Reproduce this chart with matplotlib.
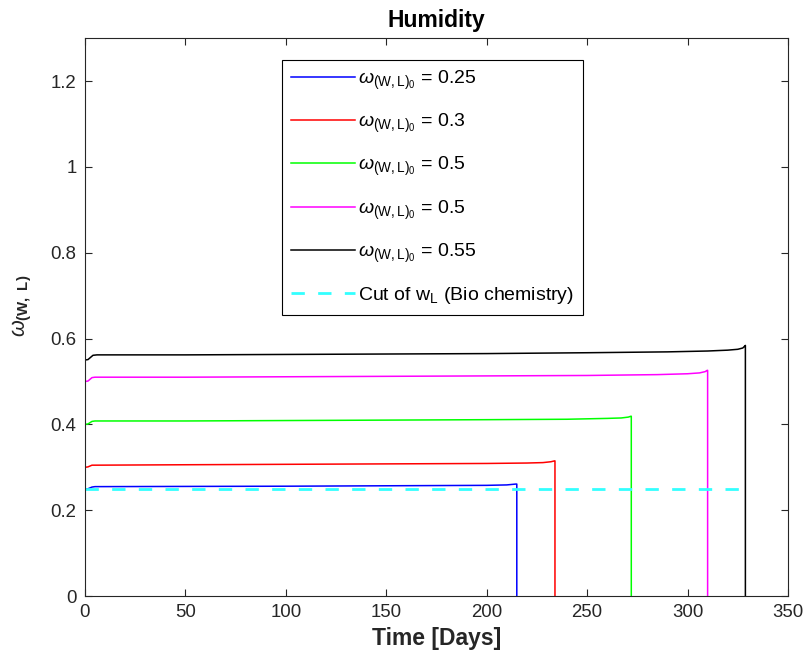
import matplotlib.pyplot as plt

plt.rcParams['font.family'] = ['Liberation Sans', 'DejaVu Sans']
plt.rcParams['mathtext.fontset'] = 'custom'
plt.rcParams['mathtext.rm'] = 'Liberation Sans'
plt.rcParams['mathtext.it'] = 'Liberation Sans:italic'
plt.rcParams['mathtext.bf'] = 'Liberation Sans:bold'

# humidity curves, one per initial water content
days_025 = [0, 1.5, 3.5, 5, 50, 100, 150, 200, 210, 214.5, 215, 215]
hum_025 = [0.250, 0.250, 0.254, 0.255, 0.2555, 0.256, 0.257, 0.258, 0.259, 0.261, 0.261, 0.0]

days_03 = [0, 1.5, 3.5, 5, 50, 100, 150, 200, 220, 228, 232, 233.8, 234, 234]
hum_03 = [0.300, 0.301, 0.305, 0.305, 0.306, 0.307, 0.308, 0.309, 0.310, 0.311, 0.313, 0.315, 0.315, 0.0]

days_05a = [0, 1.5, 3.5, 5, 50, 100, 150, 200, 240, 260, 267, 270.5, 271.8, 272, 272]
hum_05a = [0.400, 0.401, 0.407, 0.408, 0.408, 0.409, 0.410, 0.411, 0.412, 0.414, 0.415, 0.417, 0.419, 0.419, 0.0]

days_05b = [0, 1.5, 3.5, 5, 50, 100, 150, 200, 250, 285, 300, 306, 308.8, 309.8, 310, 310]
hum_05b = [0.500, 0.501, 0.509, 0.510, 0.510, 0.511, 0.512, 0.513, 0.514, 0.516, 0.518, 0.520, 0.523, 0.526, 0.526, 0.0]

days_055 = [0, 1.5, 4, 6, 50, 100, 150, 200, 250, 290, 310, 320, 325, 327.5, 328.6, 328.8, 328.8]
hum_055 = [0.550, 0.551, 0.561, 0.562, 0.562, 0.563, 0.564, 0.565, 0.567, 0.569, 0.571, 0.573, 0.575, 0.578, 0.583, 0.584, 0.0]

cut_days = [0, 329]
cut_level = [0.25, 0.25]

labels = [r'$\omega_{(\mathrm{W,L})_0}$ = 0.25',
          r'$\omega_{(\mathrm{W,L})_0}$ = 0.3',
          r'$\omega_{(\mathrm{W,L})_0}$ = 0.5',
          r'$\omega_{(\mathrm{W,L})_0}$ = 0.5',
          r'$\omega_{(\mathrm{W,L})_0}$ = 0.55',
          r'Cut of w$_\mathrm{L}$ (Bio chemistry)']

fig = plt.figure(figsize=(8.09, 6.69), dpi=100)
ax = fig.add_axes([0.105, 0.109, 0.869, 0.834])

lw = 1.1
ax.plot(days_025, hum_025, color=(0, 0, 1), lw=lw, label=labels[0])
ax.plot(days_03, hum_03, color=(1, 0, 0), lw=lw, label=labels[1])
ax.plot(days_05a, hum_05a, color=(0, 1, 0), lw=lw, label=labels[2])
ax.plot(days_05b, hum_05b, color=(1, 0, 1), lw=lw, label=labels[3])
ax.plot(days_055, hum_055, color=(0, 0, 0), lw=lw, label=labels[4])
ax.plot(cut_days, cut_level, color=(0.2, 1, 1), lw=2.0, ls=(0, (4.8, 4.8)), label=labels[5])

ax.set_xlim(0, 350)
ax.set_ylim(0, 1.3)
ax.set_xticks(range(0, 351, 50))
ax.set_yticks([0, 0.2, 0.4, 0.6, 0.8, 1, 1.2])
ax.set_yticklabels(['0', '0.2', '0.4', '0.6', '0.8', '1', '1.2'])

gray = (0.15, 0.15, 0.15)
for s in ax.spines.values():
    s.set_color(gray)
    s.set_linewidth(0.8)
ax.tick_params(direction='in', length=5, width=0.8, colors=gray,
               labelsize=13.4, top=True, right=True, pad=6)

ax.set_title('Humidity', fontsize=16.5, fontweight='bold', pad=8)
ax.set_xlabel('Time [Days]', fontsize=16.5, fontweight='bold', color=gray, labelpad=4)
ax.set_ylabel(r'$\omega_{\mathbf{(W,\ L)}}$', fontsize=15.5, color=gray)
ax.yaxis.set_label_coords(-0.072, 0.52)

leg = ax.legend(loc='upper left', bbox_to_anchor=(0.281, 0.961), fontsize=14.0,
                handlelength=3.3, handletextpad=0.15, labelspacing=1.03,
                borderpad=0.45, borderaxespad=0, fancybox=False, framealpha=1,
                edgecolor='k')
leg.get_frame().set_linewidth(0.8)

fig.savefig('out.png', dpi=100)
